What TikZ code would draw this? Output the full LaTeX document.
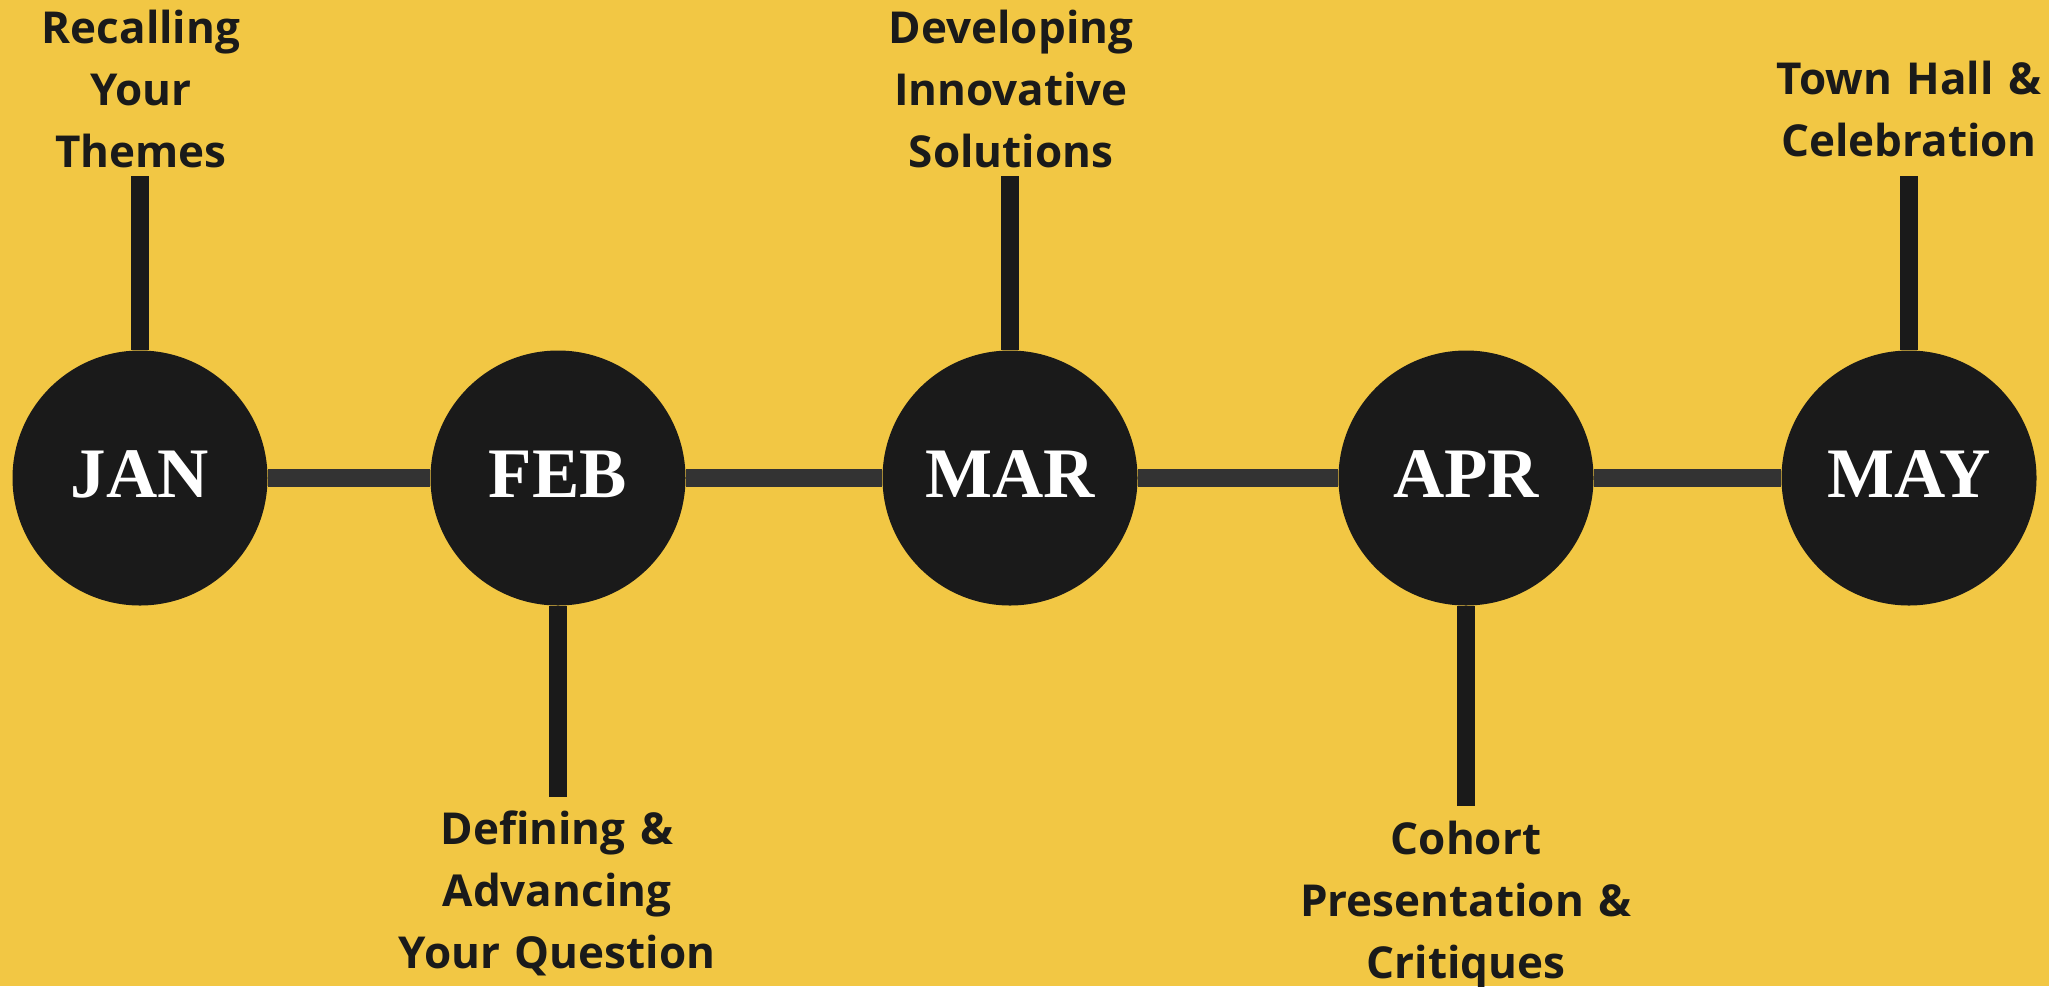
\documentclass[tikz,border=0pt]{standalone}
\usepackage{fontspec}
\usepackage{tikz}
\usetikzlibrary{positioning}
\newfontfamily\labelfont{Open Sans}
\newfontfamily\monthfont{Liberation Serif}
\definecolor{bgyellow}{HTML}{F2C744}
\definecolor{dotblack}{HTML}{1A1A1A}
\definecolor{linegrey}{HTML}{333333}
\tikzset{
    month/.style={
                circle,
                fill=dotblack,
                minimum size=127.5pt,
                inner sep=0pt,
                text=white,
                font=\monthfont\bfseries\fontsize{35.5}{40}\selectfont,
                text height=21pt,
                text depth=2pt
            },
        topic/.style={
                text width=180pt,
                align=center,
                inner sep=0pt,
                anchor=base,
                text=dotblack,
                font=\labelfont\bfseries\fontsize{22}{31}\selectfont
            },
        stem/.style={line width=9pt, draw=dotblack},
        track/.style={line width=9pt, draw=linegrey},
}

\begin{document}
\begin{tikzpicture}[x=0.5pt, y=-0.5pt]
% Background
\fill[bgyellow] (0,0) rectangle (2049,986);
\useasboundingbox (0,0) rectangle (2049,986);
% Months
\node[month] (jan) at (140,478) {JAN};
\node[month] (feb) at (558,478) {FEB};
\node[month] (mar) at (1010,478) {MAR};
\node[month] (apr) at (1466,478) {APR};
\node[month] (may) at (1909,478) {MAY};
% Track between months
\draw[track] (jan.east) -- (feb.west);
\draw[track] (feb.east) -- (mar.west);
\draw[track] (mar.east) -- (apr.west);
\draw[track] (apr.east) -- (may.west);
% Stems
\coordinate (jan end) at (140,176);
\coordinate (feb end) at (558,797);
\coordinate (mar end) at (1010,176);
\coordinate (apr end) at (1466,806);
\coordinate (may end) at (1909,176);
\draw[stem] (jan.north) -- (jan end);
\draw[stem] (feb.south) -- (feb end);
\draw[stem] (mar.north) -- (mar end);
\draw[stem] (apr.south) -- (apr end);
\draw[stem] (may.north) -- (may end);
% Topics
\node[topic] (jan topic) at (141,43) {Recalling\\Your\\Themes};
\node[topic] (feb topic) at (557,844) {Defining \&\\Advancing\\Your Question};
\node[topic] (mar topic) at (1011,43) {Developing\\Innovative\\Solutions};
\node[topic] (apr topic) at (1466,854) {Cohort\\Presentation \&\\Critiques};
\node[topic] (may topic) at (1909,94) {Town Hall \&\\Celebration};
\end{tikzpicture}
\end{document}
